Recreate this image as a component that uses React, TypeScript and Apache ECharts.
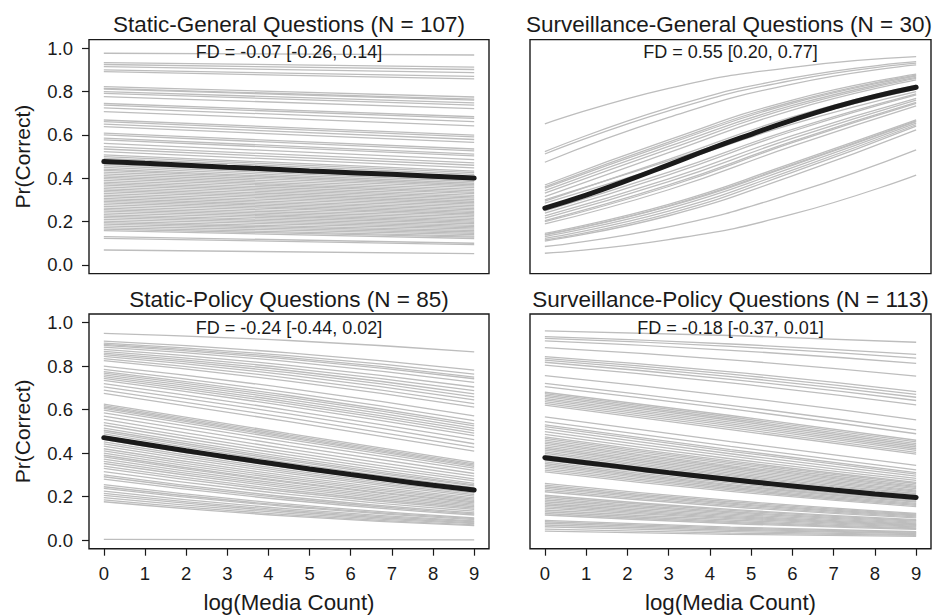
import React, { useEffect, useRef } from "react";
import * as echarts from "echarts";

// ---------- data ----------
const X_TICKS = [0, 1, 2, 3, 4, 5, 6, 7, 8, 9];
const Y_TICKS = [0, 0.2, 0.4, 0.6, 0.8, 1.0];

const TITLES = [
  "Static-General Questions (N = 107)",
  "Surveillance-General Questions (N = 30)",
  "Static-Policy Questions (N = 85)",
  "Surveillance-Policy Questions (N = 113)",
];
const FD_LABELS = [
  "FD = -0.07 [-0.26, 0.14]",
  "FD = 0.55 [0.20, 0.77]",
  "FD = -0.24 [-0.44, 0.02]",
  "FD = -0.18 [-0.37, 0.01]",
];
const X_TITLE = "log(Media Count)";
const Y_TITLE = "Pr(Correct)";

// Static-General: gray question curves, values at x = 0 and x = 9
const SG_X = [0, 9];
const SG_LINES = [
  [0.977, 0.969], [0.934, 0.913], [0.925, 0.902], [0.915, 0.888], [0.9, 0.87], [0.892, 0.859],
  [0.823, 0.775], [0.815, 0.765], [0.811, 0.761], [0.8, 0.748], [0.792, 0.738], [0.777, 0.721],
  [0.745, 0.684], [0.738, 0.676], [0.725, 0.661], [0.708, 0.642], [0.669, 0.599], [0.661, 0.591],
  [0.65, 0.579], [0.638, 0.566], [0.608, 0.535], [0.6, 0.526], [0.585, 0.511], [0.577, 0.503],
  [0.561, 0.486], [0.546, 0.471], [0.535, 0.46], [0.523, 0.448], [0.508, 0.433], [0.5, 0.426],
  [0.492, 0.418], [0.48, 0.406], [0.465, 0.392], [0.458, 0.385], [0.45, 0.377], [0.442, 0.37],
  [0.436, 0.364], [0.428, 0.357], [0.42, 0.349], [0.412, 0.342], [0.405, 0.335], [0.398, 0.329],
  [0.39, 0.321], [0.382, 0.314], [0.375, 0.308], [0.368, 0.301], [0.36, 0.294], [0.352, 0.287],
  [0.345, 0.281], [0.338, 0.274], [0.33, 0.267], [0.322, 0.26], [0.315, 0.254], [0.307, 0.247],
  [0.3, 0.241], [0.293, 0.235], [0.286, 0.229], [0.278, 0.222], [0.27, 0.215], [0.262, 0.208],
  [0.255, 0.202], [0.248, 0.196], [0.24, 0.19], [0.232, 0.183], [0.225, 0.177], [0.218, 0.171],
  [0.21, 0.165], [0.202, 0.158], [0.195, 0.152], [0.188, 0.146], [0.18, 0.14], [0.172, 0.133],
  [0.165, 0.128], [0.158, 0.122], [0.131, 0.1], [0.123, 0.094], [0.069, 0.052],
];
const SG_MEAN = [0.477, 0.469, 0.46, 0.451, 0.443, 0.434, 0.426, 0.418, 0.409, 0.401];

// Surveillance-General: values at x = 0, 3, 6, 9
const VG_X = [0, 3, 6, 9];
const VG_LINES = [
  [0.651, 0.815, 0.912, 0.961], [0.523, 0.725, 0.863, 0.938], [0.512, 0.711, 0.852, 0.931],
  [0.474, 0.681, 0.835, 0.923], [0.369, 0.577, 0.761, 0.881], [0.36, 0.567, 0.752, 0.876],
  [0.354, 0.559, 0.746, 0.872], [0.343, 0.547, 0.736, 0.866], [0.331, 0.534, 0.727, 0.861],
  [0.315, 0.518, 0.715, 0.854], [0.3, 0.48, 0.666, 0.811], [0.295, 0.487, 0.683, 0.83],
  [0.285, 0.462, 0.65, 0.8], [0.25, 0.428, 0.626, 0.79], [0.239, 0.416, 0.617, 0.785],
  [0.226, 0.397, 0.597, 0.769], [0.216, 0.384, 0.584, 0.761], [0.205, 0.369, 0.57, 0.75],
  [0.2, 0.362, 0.564, 0.746], [0.189, 0.347, 0.548, 0.734], [0.146, 0.28, 0.47, 0.669],
  [0.14, 0.273, 0.463, 0.665], [0.138, 0.27, 0.459, 0.661], [0.131, 0.26, 0.449, 0.654],
  [0.123, 0.248, 0.438, 0.647], [0.115, 0.237, 0.427, 0.641], [0.11, 0.227, 0.411, 0.623],
  [0.085, 0.176, 0.33, 0.531], [0.054, 0.117, 0.234, 0.415],
];
const VG_MEAN = [0.262, 0.322, 0.39, 0.462, 0.535, 0.603, 0.668, 0.727, 0.778, 0.82];

// Static-Policy: values at x = 0, 4.5, 9
const SP_X = [0, 4.5, 9];
const SP_LINES = [
  [0.951, 0.918, 0.866], [0.915, 0.861, 0.782], [0.906, 0.848, 0.763], [0.9, 0.839, 0.75],
  [0.896, 0.832, 0.742], [0.888, 0.821, 0.725], [0.877, 0.804, 0.704], [0.868, 0.791, 0.687],
  [0.86, 0.78, 0.672], [0.853, 0.77, 0.659], [0.845, 0.759, 0.645], [0.835, 0.745, 0.628],
  [0.825, 0.731, 0.611], [0.8, 0.698, 0.571], [0.785, 0.678, 0.549], [0.775, 0.665, 0.534],
  [0.768, 0.656, 0.525], [0.76, 0.646, 0.514], [0.752, 0.636, 0.503], [0.744, 0.626, 0.492],
  [0.735, 0.615, 0.48], [0.72, 0.597, 0.462], [0.705, 0.58, 0.443], [0.69, 0.562, 0.426],
  [0.675, 0.545, 0.409], [0.625, 0.49, 0.357], [0.618, 0.483, 0.35], [0.612, 0.476, 0.345],
  [0.606, 0.47, 0.339], [0.598, 0.462, 0.331], [0.585, 0.449, 0.32], [0.57, 0.433, 0.306],
  [0.555, 0.418, 0.294], [0.54, 0.404, 0.281], [0.528, 0.392, 0.272], [0.515, 0.38, 0.261],
  [0.505, 0.371, 0.254], [0.498, 0.364, 0.249], [0.488, 0.355, 0.241], [0.478, 0.346, 0.234],
  [0.462, 0.331, 0.223], [0.452, 0.322, 0.216], [0.442, 0.314, 0.209], [0.432, 0.305, 0.202],
  [0.42, 0.295, 0.194], [0.41, 0.286, 0.188], [0.4, 0.278, 0.182], [0.39, 0.269, 0.176],
  [0.383, 0.264, 0.171], [0.372, 0.255, 0.165], [0.362, 0.247, 0.159], [0.352, 0.239, 0.153],
  [0.34, 0.229, 0.147], [0.33, 0.221, 0.141], [0.315, 0.21, 0.133], [0.3, 0.198, 0.125],
  [0.291, 0.191, 0.12], [0.28, 0.183, 0.115], [0.255, 0.165, 0.102], [0.245, 0.158, 0.098],
  [0.238, 0.153, 0.094], [0.225, 0.143, 0.088], [0.215, 0.136, 0.084], [0.205, 0.13, 0.079],
  [0.195, 0.123, 0.075], [0.185, 0.116, 0.07], [0.176, 0.11, 0.066], [0.003, 0.002, 0.001],
];
const SP_MEAN = [0.471, 0.441, 0.411, 0.382, 0.354, 0.327, 0.301, 0.276, 0.252, 0.23];

// Surveillance-Policy: values at x = 0, 4.5, 9
const VP_X = [0, 4.5, 9];
const VP_LINES = [
  [0.962, 0.941, 0.91], [0.936, 0.902, 0.854], [0.928, 0.891, 0.837], [0.916, 0.873, 0.813],
  [0.885, 0.829, 0.754], [0.844, 0.774, 0.683], [0.836, 0.763, 0.67], [0.828, 0.752, 0.657],
  [0.818, 0.739, 0.642], [0.805, 0.723, 0.622], [0.756, 0.662, 0.553], [0.721, 0.62, 0.507],
  [0.706, 0.603, 0.489], [0.68, 0.573, 0.459], [0.674, 0.566, 0.452], [0.667, 0.558, 0.444],
  [0.66, 0.551, 0.436], [0.652, 0.542, 0.428], [0.645, 0.534, 0.42], [0.637, 0.526, 0.412],
  [0.629, 0.517, 0.403], [0.621, 0.508, 0.395], [0.567, 0.453, 0.343], [0.545, 0.431, 0.323],
  [0.53, 0.416, 0.31], [0.522, 0.408, 0.303], [0.511, 0.397, 0.294], [0.499, 0.386, 0.284],
  [0.486, 0.374, 0.274], [0.475, 0.364, 0.265], [0.468, 0.357, 0.26], [0.46, 0.35, 0.253],
  [0.452, 0.342, 0.247], [0.445, 0.336, 0.242], [0.437, 0.329, 0.236], [0.429, 0.322, 0.23],
  [0.421, 0.315, 0.225], [0.414, 0.308, 0.22], [0.406, 0.301, 0.214], [0.399, 0.295, 0.209],
  [0.39, 0.288, 0.203], [0.368, 0.269, 0.188], [0.36, 0.262, 0.183], [0.352, 0.255, 0.178],
  [0.345, 0.25, 0.174], [0.338, 0.244, 0.169], [0.33, 0.237, 0.164], [0.322, 0.231, 0.159],
  [0.314, 0.224, 0.154], [0.261, 0.182, 0.123], [0.253, 0.176, 0.119], [0.245, 0.17, 0.115],
  [0.238, 0.165, 0.111], [0.23, 0.159, 0.106], [0.222, 0.153, 0.102], [0.206, 0.141, 0.094],
  [0.199, 0.136, 0.09], [0.192, 0.13, 0.087], [0.184, 0.125, 0.082], [0.176, 0.119, 0.078],
  [0.168, 0.113, 0.074], [0.161, 0.108, 0.071], [0.154, 0.103, 0.068], [0.147, 0.098, 0.064],
  [0.138, 0.092, 0.06], [0.13, 0.086, 0.056], [0.122, 0.081, 0.052], [0.115, 0.076, 0.049],
  [0.09, 0.059, 0.038], [0.084, 0.055, 0.035], [0.077, 0.05, 0.032], [0.069, 0.045, 0.029],
  [0.061, 0.039, 0.025], [0.05, 0.032, 0.021], [0.041, 0.026, 0.017],
];
const VP_MEAN = [0.379, 0.356, 0.333, 0.31, 0.289, 0.268, 0.249, 0.23, 0.212, 0.196];

// ---------- layout ----------
const FONT = '"Liberation Sans", Arial, Helvetica, sans-serif';
const INK = "#1a1a1a";
const GRAY = "#bdbdbd";

const GRIDS = [
  { left: 89, top: 39.6, width: 400, height: 234 },
  { left: 530, top: 39.6, width: 401, height: 234 },
  { left: 89, top: 314, width: 400, height: 234.7 },
  { left: 530, top: 314, width: 401, height: 234.7 },
];

const PANELS = [
  { xs: SG_X, lines: SG_LINES, mean: SG_MEAN },
  { xs: VG_X, lines: VG_LINES, mean: VG_MEAN },
  { xs: SP_X, lines: SP_LINES, mean: SP_MEAN },
  { xs: VP_X, lines: VP_LINES, mean: VP_MEAN },
];

export default function App() {
  const ref = useRef<HTMLDivElement>(null);

  useEffect(() => {
    if (!ref.current) return;
    const chart = echarts.init(ref.current, undefined, { renderer: "svg" });

    const xAxis: any[] = [];
    const yAxis: any[] = [];
    const series: any[] = [];
    const graphic: any[] = [];

    GRIDS.forEach((g, i) => {
      const bottomRow = i >= 2;
      const leftCol = i % 2 === 0;
      xAxis.push({
        gridIndex: i,
        type: "value",
        position: "bottom",
        min: -0.36,
        max: 9.36,
        axisLine: { show: false, onZero: false },
        splitLine: { show: false },
        axisTick: {
          show: bottomRow,
          inside: false,
          customValues: X_TICKS,
          length: 7,
          lineStyle: { color: INK, width: 1.2 },
        },
        axisLabel: {
          show: bottomRow,
          customValues: X_TICKS,
          margin: 15,
          color: INK,
          fontSize: 18.5,
          fontFamily: FONT,
          formatter: (v: number) => String(v),
        },
        name: bottomRow ? X_TITLE : "",
        nameLocation: "middle",
        nameGap: 43,
        nameTextStyle: { color: INK, fontSize: 22.3, fontFamily: FONT },
      });
      yAxis.push({
        gridIndex: i,
        type: "value",
        position: "left",
        min: -0.04,
        max: 1.04,
        axisLine: { show: false, onZero: false },
        splitLine: { show: false },
        axisTick: {
          show: leftCol,
          inside: false,
          customValues: Y_TICKS,
          length: 7,
          lineStyle: { color: INK, width: 1.2 },
        },
        axisLabel: {
          show: leftCol,
          customValues: Y_TICKS,
          margin: 16,
          color: INK,
          fontSize: 18.5,
          fontFamily: FONT,
          formatter: (v: number) => v.toFixed(1),
        },
        name: leftCol ? Y_TITLE : "",
        nameLocation: "middle",
        nameGap: 56,
        nameTextStyle: { color: INK, fontSize: 21, fontFamily: FONT },
      });

      const p = PANELS[i];
      p.lines.forEach((line) => {
        series.push({
          type: "line",
          xAxisIndex: i,
          yAxisIndex: i,
          data: line.map((v, k) => [p.xs[k], v]),
          smooth: p.xs.length > 2,
          symbol: "none",
          silent: true,
          lineStyle: { color: GRAY, width: 1.3 },
          z: 2,
        });
      });
      series.push({
        type: "line",
        xAxisIndex: i,
        yAxisIndex: i,
        data: X_TICKS.map((x, k) => [x, p.mean[k]]),
        smooth: true,
        symbol: "none",
        silent: true,
        lineStyle: { color: INK, width: 5, cap: "round" },
        z: 3,
      });

      const cx = g.left + g.width / 2;
      graphic.push({
        type: "text",
        x: i === 1 ? cx - 1.5 : cx,
        y: i < 2 ? 24 : 299,
        style: {
          text: TITLES[i],
          font: `22.5px ${FONT}`,
          fill: INK,
          align: "center",
          verticalAlign: "middle",
          textAlign: "center",
          textVerticalAlign: "middle",
        },
      });
      graphic.push({
        type: "text",
        x: cx,
        y: i < 2 ? 52 : 327.5,
        z: 10,
        style: {
          text: FD_LABELS[i],
          font: `18px ${FONT}`,
          fill: INK,
          align: "center",
          verticalAlign: "middle",
          textAlign: "center",
          textVerticalAlign: "middle",
        },
      });
    });

    chart.setOption({
      animation: false,
      backgroundColor: "#ffffff",
      grid: GRIDS.map((g) => ({
        ...g,
        show: true,
        borderColor: INK,
        borderWidth: 1.4,
        backgroundColor: "transparent",
        containLabel: false,
      })),
      xAxis,
      yAxis,
      series,
      graphic,
    });

    return () => chart.dispose();
  }, []);

  return (
    <div
      ref={ref}
      style={{ position: "absolute", left: 0, top: 0, width: 936, height: 615 }}
    />
  );
}
